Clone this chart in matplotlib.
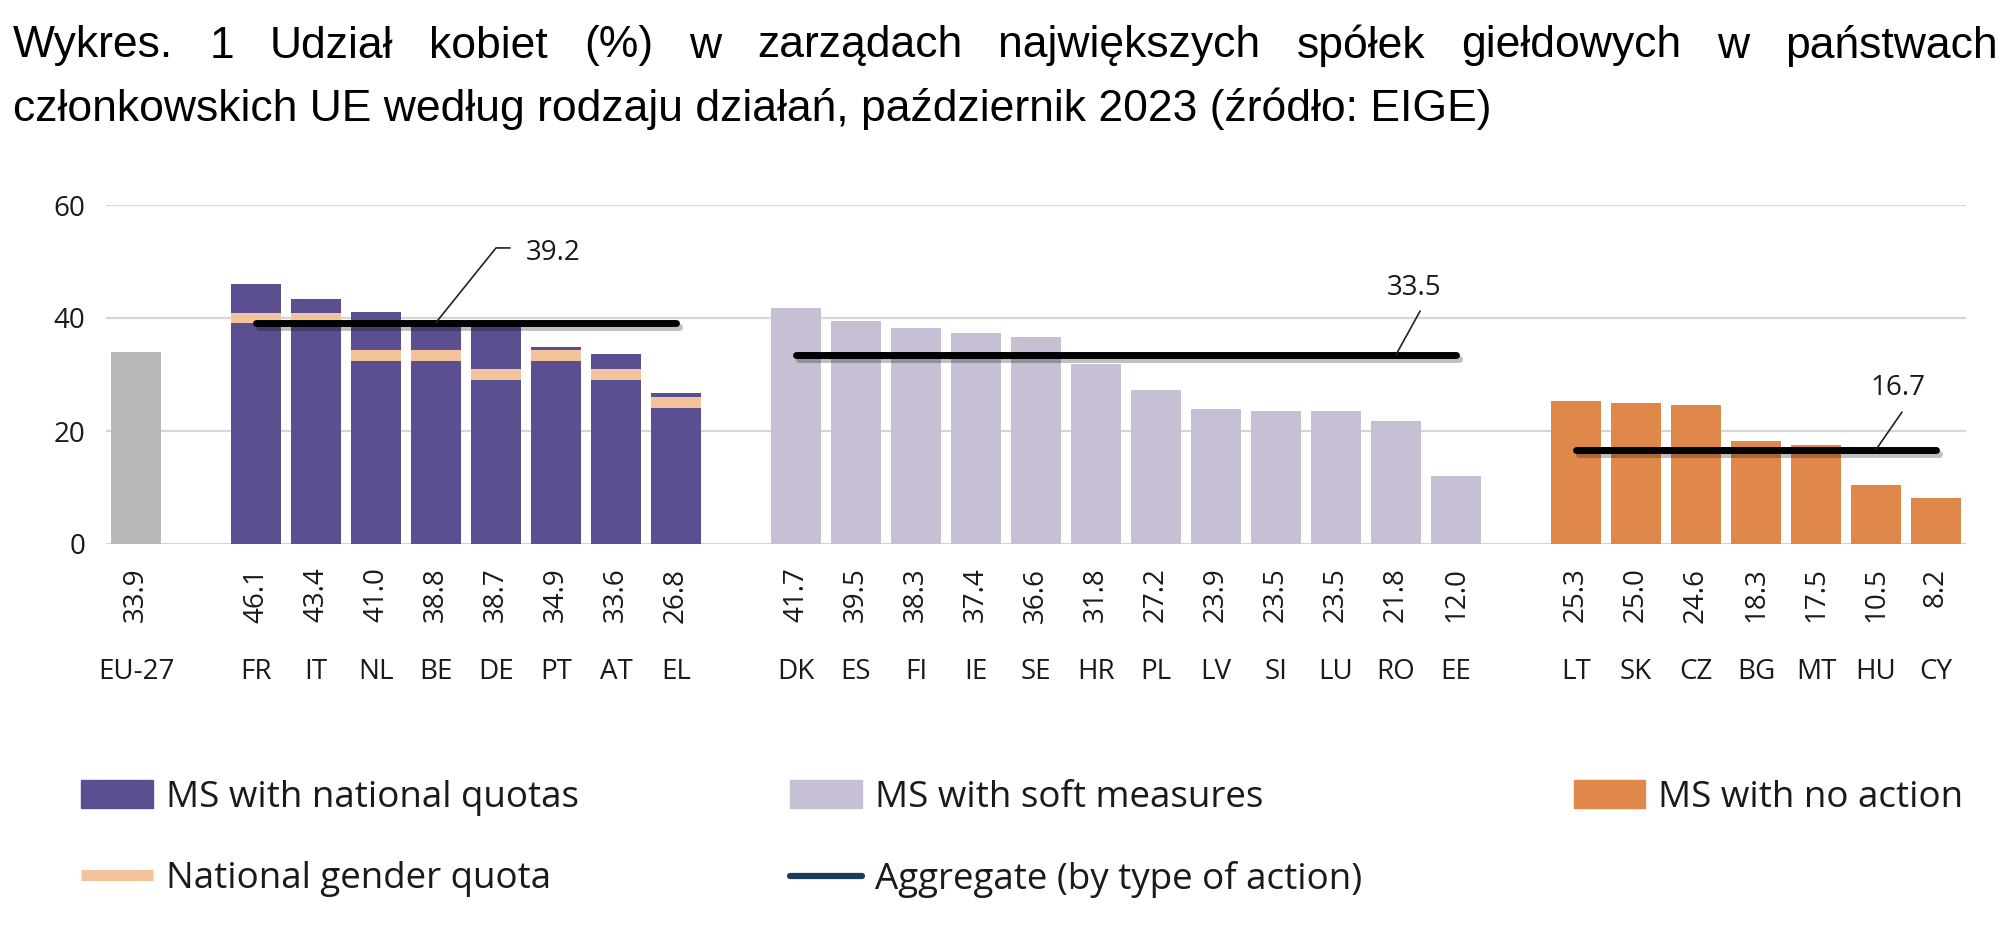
import matplotlib
matplotlib.use("Agg")
from matplotlib import pyplot as plt
from matplotlib import patheffects as pe
from matplotlib.patches import Patch
from matplotlib.lines import Line2D

plt.rcParams['font.family'] = ['Open Sans', 'DejaVu Sans']

TITLE_1 = "Wykres. 1 Udział kobiet (%) w zarządach największych spółek giełdowych w państwach"
TITLE_2 = "członkowskich UE według rodzaju działań, październik 2023 (źródło: EIGE)"

eu_label = ["EU-27"]
eu_value = [33.9]

quota_labels = ["FR", "IT", "NL", "BE", "DE", "PT", "AT", "EL"]
quota_values = [46.1, 43.4, 41.0, 38.8, 38.7, 34.9, 33.6, 26.8]
quota_targets = [40, 40, 33.3, 33.3, 30, 33.3, 30, 25]

soft_labels = ["DK", "ES", "FI", "IE", "SE", "HR", "PL", "LV", "SI", "LU", "RO", "EE"]
soft_values = [41.7, 39.5, 38.3, 37.4, 36.6, 31.8, 27.2, 23.9, 23.5, 23.5, 21.8, 12.0]

none_labels = ["LT", "SK", "CZ", "BG", "MT", "HU", "CY"]
none_values = [25.3, 25.0, 24.6, 18.3, 17.5, 10.5, 8.2]

aggregates = [39.2, 33.5, 16.7]

C_EU = "#B9B9BB"
C_QUOTA = "#5B4E91"
C_SOFT = "#C7C0D5"
C_NONE = "#E0874A"
C_TARGET = "#F3C39C"
C_AGG = "#000000"
TXT = "#1a1a1a"

fig = plt.figure(figsize=(20.08, 9.48), dpi=100)
ax = fig.add_axes([106 / 2008, 1 - 544 / 948, 1860 / 2008, 339 / 948])

# x positions: one empty slot between groups
groups = [(eu_label, eu_value, C_EU), (quota_labels, quota_values, C_QUOTA),
          (soft_labels, soft_values, C_SOFT), (none_labels, none_values, C_NONE)]
pos = 0
group_x = []
for labels, values, color in groups:
    xs = list(range(pos, pos + len(labels)))
    group_x.append(xs)
    ax.bar(xs, values, width=0.83, color=color, zorder=2)
    for x, lab, v in zip(xs, labels, values):
        ax.annotate(f"{v:.1f}", (x, 0), xytext=(0, -17), textcoords="offset points",
                    rotation=90, ha="center", va="top", fontsize=20, color=TXT)
        ax.annotate(lab, (x, 0), xytext=(0, -92), textcoords="offset points",
                    ha="center", va="center", fontsize=20, color=TXT)
    pos += len(labels) + 1

# national gender quota bands
ax.bar(group_x[1], [1.9] * len(quota_targets), bottom=[t - 0.95 for t in quota_targets],
       width=0.83, color=C_TARGET, zorder=3)

# aggregate lines with callouts (leader: start dx, top dx, top dy, text dx, text dy, ha)
callouts = [(3.0, 4.0, 13.2, 4.5, 12.3, "left"),
            (10.0, 10.4, 7.7, 10.3, 11.8, "center"),
            (5.0, 5.43, 6.6, 5.37, 10.9, "center")]
shadow = [pe.SimpleLineShadow(offset=(2, -3), shadow_color="k", alpha=0.25), pe.Normal()]
for xs, agg, (d0, d1, dy, tx, ty, ha) in zip(group_x[1:], aggregates, callouts):
    ax.plot([xs[0], xs[-1]], [agg, agg], color=C_AGG, lw=5, solid_capstyle="round",
            zorder=4, path_effects=shadow)
    lx = [xs[0] + d0, xs[0] + d1]
    ly = [agg, agg + dy]
    if ha == "left":
        lx.append(xs[0] + d1 + 0.23)
        ly.append(agg + dy)
    ax.plot(lx, ly, color="#222222", lw=1.2, zorder=4)
    ax.text(xs[0] + tx, agg + ty, f"{agg:.1f}", ha=ha, va="center", fontsize=20, color=TXT)

ax.set_xlim(-0.5, pos - 1.5)
ax.set_ylim(0, 60)
ax.set_yticks([0, 20, 40, 60])
ax.set_xticks([])
ax.tick_params(axis="y", length=0, labelsize=20, pad=15, labelcolor=TXT)
ax.yaxis.grid(True, color="#D6D6D6", lw=1.6, zorder=0)
ax.set_axisbelow(True)
for s in ax.spines.values():
    s.set_visible(False)

# legend
handles = [Patch(color=C_QUOTA), Line2D([], [], color=C_TARGET, lw=8, solid_capstyle="butt"),
           Patch(color=C_SOFT), Line2D([], [], color="#1F3B5C", lw=4.5, solid_capstyle="round"),
           Patch(color=C_NONE)]
names = ["MS with national quotas", "National gender quota", "MS with soft measures",
         "Aggregate (by type of action)", "MS with no action"]
fig.legend(handles, names, ncol=3, loc="upper left", bbox_to_anchor=(81 / 2008, 1 - 780 / 948),
           frameon=False, fontsize=26.5, handlelength=1.95, handleheight=0.78, handletextpad=0.35,
           columnspacing=5.75, labelspacing=1.22, borderpad=0, borderaxespad=0, labelcolor=TXT)

# title, first line justified
renderer = fig.canvas.get_renderer()
left, right = 13 / 2008, 1998 / 2008
words = TITLE_1.split()
texts = [fig.text(0, 1 - 46 / 948, w, fontsize=32, family="Liberation Sans", va="center")
         for w in words]
widths = [t.get_window_extent(renderer).width / fig.bbox.width for t in texts]
gap = (right - left - sum(widths)) / (len(words) - 1)
x = left
for t, w in zip(texts, widths):
    t.set_x(x)
    x += w + gap
fig.text(left, 1 - 109 / 948, TITLE_2, fontsize=32, family="Liberation Sans", va="center")

fig.savefig("out.png", dpi=100)
